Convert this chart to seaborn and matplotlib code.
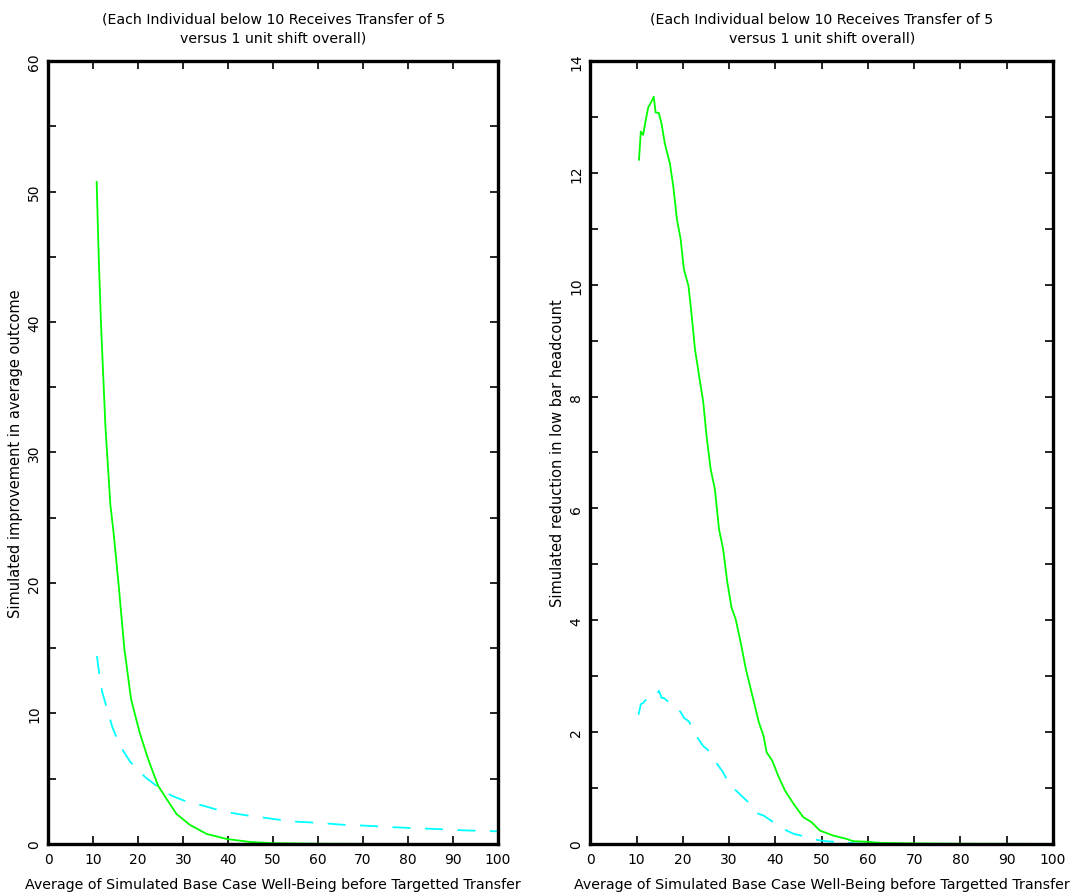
import numpy as np
import pandas as pd
import seaborn as sns
import matplotlib
matplotlib.use("Agg")
import matplotlib.pyplot as plt
from matplotlib.ticker import MultipleLocator

# ---------------- data ----------------
title_text = "(Each Individual below 10 Receives Transfer of 5\nversus 1 unit shift overall)"
xlabel_text = "Average of Simulated Base Case Well-Being before Targetted Transfer"
left_ylabel = "Simulated improvement in average outcome"
right_ylabel = "Simulated reduction in low bar headcount"

# Left panel: targeted transfer (green, solid)
left_target_x = [10.75, 11.2, 11.7, 12.7, 13.8, 14.5, 15.6, 16.9, 18.4, 20.3, 22.2,
                 24.4, 26.3, 28.5, 31.5, 35.2, 39.7, 45, 50, 60, 70, 80, 90, 100]
left_target_y = [50.75, 45.1, 40.0, 32.0, 26.0, 23.9, 20.0, 15.0, 11.1, 8.56, 6.5,
                 4.47, 3.45, 2.3, 1.46, 0.77, 0.38, 0.15, 0.06, 0.02, 0.01, 0.005, 0.003, 0.002]
# Left panel: 1 unit shift overall (cyan, dashed)
left_shift_x = [10.8, 11.35, 11.95, 13.1, 14.2, 15.8, 18.2, 21.6, 24.8, 27.4, 30.8,
                34.5, 37.5, 41.2, 44.5, 48.3, 51.6, 55.0, 58.4, 61.7, 65.1, 68.8,
                71.8, 75.5, 78.9, 82.2, 86.0, 89.0, 92.7, 96.4, 100]
left_shift_y = [14.4, 13.0, 11.7, 10.3, 9.0, 7.6, 6.3, 5.1, 4.27, 3.7, 3.24,
                2.93, 2.63, 2.35, 2.17, 2.0, 1.84, 1.71, 1.65, 1.58, 1.48, 1.43,
                1.38, 1.3, 1.25, 1.2, 1.15, 1.1, 1.04, 1.0, 0.97]

# Right panel: targeted transfer (green, solid)
right_target_x = [10.5, 10.9, 11.4, 12.0, 12.5, 13.1, 13.7, 14.1, 14.8, 15.4, 16.1,
                  17.2, 17.9, 18.7, 19.5, 20.2, 21.2, 21.9, 22.6, 23.5, 24.4, 25.1,
                  26.0, 26.9, 27.8, 28.7, 29.6, 30.5, 31.4, 32.5, 33.6, 35.2, 36.4,
                  37.4, 38.1, 39.3, 40.6, 42.1, 43.9, 46.0, 47.8, 49.6, 52.5, 55.4,
                  56.8, 59.7, 62.6, 70, 80, 90, 100]
right_target_y = [12.23, 12.74, 12.68, 12.96, 13.17, 13.26, 13.36, 13.08, 13.07, 12.87, 12.52,
                  12.16, 11.77, 11.17, 10.82, 10.28, 9.98, 9.45, 8.85, 8.37, 7.9, 7.3,
                  6.7, 6.35, 5.63, 5.27, 4.68, 4.23, 4.02, 3.6, 3.13, 2.59, 2.18,
                  1.94, 1.64, 1.49, 1.22, 0.95, 0.72, 0.48, 0.39, 0.24, 0.15, 0.09,
                  0.05, 0.04, 0.02, 0.01, 0.005, 0.003, 0.002]
# Right panel: 1 unit shift overall (cyan, dashed)
right_shift_x = [10.4, 10.9, 11.4, 11.9, 13.7, 14.2, 14.8, 15.4, 15.9, 18.7, 19.4,
                 20.3, 21.3, 23.3, 24.4, 25.3, 26.0, 28.7, 29.8, 30.9, 34.1, 35.2,
                 36.3, 37.4, 40.8, 42.4, 44.0, 47.6, 49.2, 50.8, 54.6, 57.2, 60,
                 70, 80, 90, 100]
right_shift_y = [2.31, 2.50, 2.52, 2.57, 2.66, 2.65, 2.74, 2.61, 2.61, 2.41, 2.37,
                 2.25, 2.19, 1.88, 1.75, 1.69, 1.59, 1.28, 1.10, 1.0, 0.75, 0.63,
                 0.54, 0.51, 0.32, 0.24, 0.18, 0.11, 0.07, 0.05, 0.03, 0.01, 0.005,
                 0.002, 0.001, 0.001, 0.001]

# ---------------- styling ----------------
sns.set_style("white")
plt.rcParams["font.family"] = ["DejaVu Sans"]
plt.rcParams["text.color"] = "black"
plt.rcParams["axes.labelcolor"] = "black"
GREEN = "#00ff00"
CYAN = "#00ffff"

fig = plt.figure(figsize=(10.76, 8.95), dpi=100)
ax_l = fig.add_axes([0.0449, 0.0559, 0.4179, 0.8748])
ax_r = fig.add_axes([0.5487, 0.0559, 0.4299, 0.8748])

df_lt = pd.DataFrame({"x": left_target_x, "y": left_target_y})
df_ls = pd.DataFrame({"x": left_shift_x, "y": left_shift_y})
df_rt = pd.DataFrame({"x": right_target_x, "y": right_target_y})
df_rs = pd.DataFrame({"x": right_shift_x, "y": right_shift_y})

for ax, dt, ds, ymax, ymaj, ymin, ylab in [
    (ax_l, df_lt, df_ls, 60, 10, 5, left_ylabel),
    (ax_r, df_rt, df_rs, 14, 2, 1, right_ylabel),
]:
    sns.lineplot(data=ds, x="x", y="y", ax=ax, color=CYAN, lw=1.3,
                 sort=False, estimator=None)
    ax.lines[-1].set_dashes((10, 8))
    sns.lineplot(data=dt, x="x", y="y", ax=ax, color=GREEN, lw=1.3,
                 sort=False, estimator=None)
    ax.set_xlim(0, 100)
    ax.set_ylim(0, ymax)
    ax.xaxis.set_major_locator(MultipleLocator(10))
    ax.yaxis.set_major_locator(MultipleLocator(ymaj))
    ax.yaxis.set_minor_locator(MultipleLocator(ymin))
    ax.tick_params(axis="both", which="both", direction="in", length=6, width=1.2,
                   top=True, right=True, bottom=True, left=True, color="black",
                   labelsize=10, labelcolor="black")
    ax.tick_params(axis="y", which="major", labelrotation=90, pad=5)
    for lbl in ax.get_yticklabels():
        lbl.set_va("center")
    ax.tick_params(axis="x", which="major", pad=6)
    for s in ax.spines.values():
        s.set_linewidth(2.4)
        s.set_color("black")
        s.set_visible(True)
    ax.set_xlabel(xlabel_text, fontsize=10.3, labelpad=8, color="black")
    ax.set_ylabel(ylab, fontsize=10.5, labelpad=3, color="black")
    ax.set_title(title_text, fontsize=10.2, pad=14, linespacing=1.5, color="black")
    ax.grid(False)

fig.savefig("out.png", dpi=100, facecolor="white")
